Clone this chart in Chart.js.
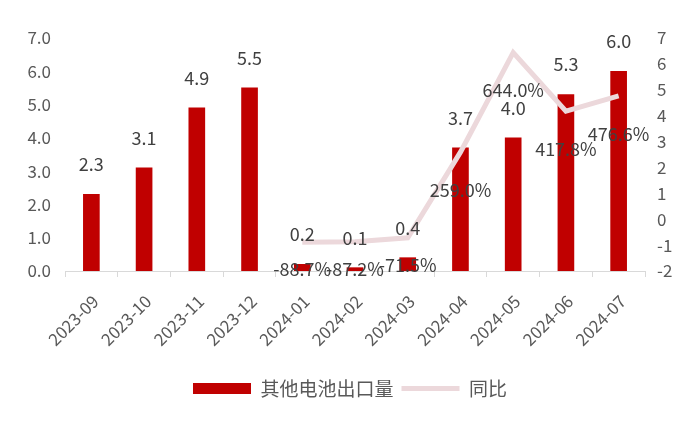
<!DOCTYPE html>
<html>
<head>
<meta charset="utf-8">
<script src="https://cdn.jsdelivr.net/npm/chart.js@4.4.0/dist/chart.umd.min.js"></script>
<style>
  html, body { margin: 0; padding: 0; background: #ffffff; }
  #wrap { width: 700px; height: 432px; }
</style>
</head>
<body>
<div id="wrap"><canvas id="chart" width="700" height="432"></canvas></div>
<script>
// 月份
const months = ['2023-09', '2023-10', '2023-11', '2023-12', '2024-01', '2024-02',
  '2024-03', '2024-04', '2024-05', '2024-06', '2024-07'];
// 其他电池出口量
const exportVol = [2.3, 3.1, 4.9, 5.5, 0.2, 0.1, 0.4, 3.7, 4.0, 5.3, 6.0];
// 同比 (%), null = no data
const yoyPct = [null, null, null, null, -88.7, -87.2, -71.5, 259.0, 644.0, 417.8, 476.6];
const yoyAxis = yoyPct.map(v => v === null ? null : v / 100);

const fontFam = "'Noto Sans CJK SC', 'Noto Sans', sans-serif";
const textCol = '#404040';
const tickCol = '#595959';

// draw the value labels the way excel puts them
const labelPlugin = {
  id: 'valueLabels',
  afterDatasetsDraw(chart) {
    const ctx = chart.ctx;
    ctx.save();
    ctx.font = '18px ' + fontFam;
    ctx.fillStyle = textCol;
    ctx.textAlign = 'center';
    ctx.textBaseline = 'middle';
    const barMeta = chart.getDatasetMeta(0);
    barMeta.data.forEach((el, i) => {
      ctx.fillText(exportVol[i].toFixed(1), el.x, el.y - 30);
    });
    const lineMeta = chart.getDatasetMeta(1);
    lineMeta.data.forEach((el, i) => {
      if (yoyPct[i] === null) return;
      const off = yoyPct[i] < 0 ? 27 : 38;
      ctx.fillText(yoyPct[i].toFixed(1) + '%', el.x, el.y + off);
    });
    ctx.restore();
  }
};

const ctx = document.getElementById('chart').getContext('2d');
const chart = new Chart(ctx, {
  data: {
    labels: months,
    datasets: [{
      type: 'bar',
      label: '其他电池出口量',
      data: exportVol,
      backgroundColor: '#C00000',
      borderWidth: 0,
      barThickness: 16,
      yAxisID: 'y',
      pointStyle: 'rect',
      order: 2
    }, {
      type: 'line',
      label: '同比',
      data: yoyAxis,
      borderColor: '#ecd8db',
      backgroundColor: '#ecd8db',
      borderWidth: 5,
      pointRadius: 0,
      tension: 0,
      yAxisID: 'y1',
      pointStyle: 'line',
      order: 1
    }]
  },
  options: {
    responsive: false,
    animation: false,
    layout: { padding: { top: 38, bottom: 24, left: 0, right: 0 } },
    plugins: {
      tooltip: { enabled: false },
      legend: {
        position: 'bottom',
        labels: {
          usePointStyle: true,
          pointStyleWidth: 58,
          boxHeight: 11,
          padding: 8,
          color: tickCol,
          font: { size: 19, family: fontFam },
          sort: (a, b) => a.datasetIndex - b.datasetIndex
        }
      }
    },
    scales: {
      x: {
        offset: true,
        grid: { display: true, drawOnChartArea: false, offset: true, tickLength: 6, color: '#d9d9d9' },
        border: { display: true, color: '#d9d9d9', width: 1 },
        ticks: {
          minRotation: 45, maxRotation: 45, padding: 14, labelOffset: 4,
          color: tickCol, font: { size: 17, family: fontFam }
        },
        afterFit(scale) { scale.height = 100; }
      },
      y: {
        position: 'left',
        min: 0, max: 7,
        grid: { display: false, drawTicks: false },
        border: { display: false },
        ticks: {
          stepSize: 1, padding: 14, color: tickCol,
          font: { size: 17, family: fontFam },
          callback: v => v.toFixed(1)
        },
        afterFit(scale) { scale.width = 65; }
      },
      y1: {
        position: 'right',
        min: -2, max: 7,
        grid: { display: false, drawTicks: false },
        border: { display: false },
        ticks: {
          stepSize: 1, padding: 12, color: tickCol,
          font: { size: 17, family: fontFam }
        },
        afterFit(scale) { scale.width = 55; }
      }
    }
  },
  plugins: [labelPlugin]
});
</script>
</body>
</html>
